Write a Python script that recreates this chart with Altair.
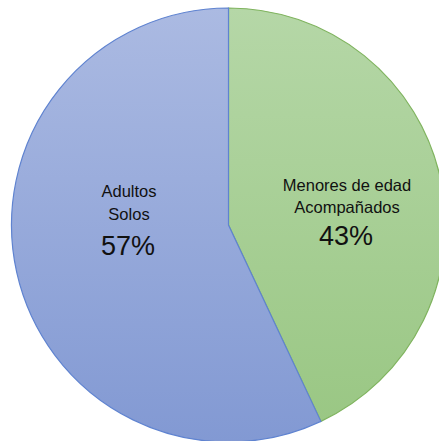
import altair as alt
import pandas as pd

categories = ["Menores de edad Acompañados", "Adultos Solos"]
values = [43, 57]
line1 = ["Menores de edad", "Adultos"]
line2 = ["Acompañados", "Solos"]
pct_labels = ["43%", "57%"]

df = pd.DataFrame({"cat": categories, "val": values, "order": [0, 1],
                   "l1": line1, "l2": line2, "pct": pct_labels})

FONT = "Liberation Sans Narrow, Arial Narrow, Liberation Sans, Arial, sans-serif"
CX, CY, R = 228.5, 225, 217

base = alt.Chart(df).transform_window(
    end="sum(val)", sort=[alt.SortField("order")], frame=[None, 0]
).transform_calculate(start="datum.end - datum.val")

theta_enc = alt.Theta("start:Q", scale=alt.Scale(domain=[0, 100]))

green_grad = alt.Gradient(gradient="linear", x1=0, x2=0, y1=0, y2=1,
                          stops=[alt.GradientStop(color="#b5d7a7", offset=0),
                                 alt.GradientStop(color="#9ac784", offset=1)])
blue_grad = alt.Gradient(gradient="linear", x1=0, x2=0, y1=0, y2=1,
                         stops=[alt.GradientStop(color="#abbae2", offset=0),
                                alt.GradientStop(color="#8299d3", offset=1)])

green = base.transform_filter(alt.datum.order == 0).mark_arc(
    fill=green_grad, stroke="#7fb35e", strokeWidth=1.2
).encode(theta=theta_enc, theta2="end:Q",
         x=alt.value(CX), y=alt.value(CY), radius=alt.value(R))

blue = base.transform_filter(alt.datum.order == 1).mark_arc(
    fill=blue_grad, stroke="#5f83d0", strokeWidth=1.2
).encode(theta=theta_enc, theta2="end:Q",
         x=alt.value(CX), y=alt.value(CY), radius=alt.value(R))

def label(order, field, x, y, size):
    return alt.Chart(df).transform_filter(alt.datum.order == order).mark_text(
        font=FONT, fontSize=size, color="#111111", align="center", baseline="alphabetic"
    ).encode(text=f"{field}:N", x=alt.value(x), y=alt.value(y))

texts = [
    label(0, "l1", 347, 191, 16.5),
    label(0, "l2", 347, 213, 16.5),
    label(0, "pct", 346, 245, 27),
    label(1, "l1", 129, 197, 16.5),
    label(1, "l2", 129, 220, 16.5),
    label(1, "pct", 128, 255, 27),
]

chart = alt.layer(green, blue, *texts).properties(
    width=439, height=441, padding=0, autosize="none", background="white"
).configure_view(stroke=None)

chart.save("out.html", embed_options={"renderer": "svg", "actions": False})
